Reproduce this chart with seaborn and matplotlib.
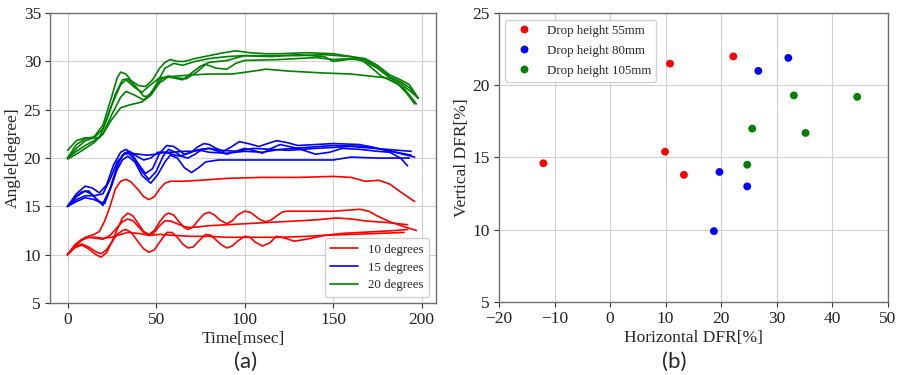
import pandas as pd
import numpy as np
import seaborn as sns
import matplotlib.pyplot as plt

# ---- (a) angle traces ----
# 10 degree runs
t_r1 = [0, 5, 10, 15, 18, 21, 24, 27, 30, 33, 36, 40, 43, 46, 49, 52, 55, 58, 65, 75, 90, 110, 130, 150, 160, 168, 176, 182, 188, 196]
a_r1 = [10.0, 11.0, 11.8, 12.1, 12.4, 13.5, 15.0, 16.8, 17.6, 17.8, 17.5, 16.7, 16.0, 15.7, 16.0, 16.8, 17.4, 17.6, 17.6, 17.7, 17.9, 18.0, 18.0, 18.1, 18.0, 17.6, 17.7, 17.3, 16.5, 15.5]
t_r2 = [0, 4, 8, 12, 16, 19, 22, 25, 28, 31, 34, 37, 40, 43, 46, 49, 52, 55, 57, 60, 63, 66, 68, 71, 74, 77, 80, 83, 86, 90, 93, 96, 100, 103, 106, 109, 112, 115, 118, 121, 124, 135, 150, 158, 165, 170, 175, 182, 190, 197]
a_r2 = [10.0, 10.7, 11.0, 10.6, 10.0, 9.75, 10.2, 11.3, 12.6, 13.8, 14.3, 14.0, 13.2, 12.4, 12.1, 12.5, 13.4, 14.1, 14.3, 14.1, 13.4, 12.8, 12.6, 12.9, 13.6, 14.2, 14.4, 14.1, 13.6, 13.2, 13.5, 14.1, 14.5, 14.4, 14.0, 13.6, 13.4, 13.6, 14.0, 14.4, 14.5, 14.5, 14.5, 14.6, 14.7, 14.5, 14.0, 13.4, 12.9, 12.5]
t_r3 = [0, 4, 8, 12, 16, 20, 24, 28, 31, 34, 37, 40, 43, 46, 49, 52, 55, 58, 62, 66, 70, 80, 90, 100, 110, 120, 130, 140, 152, 160, 168, 175, 182, 192]
a_r3 = [10.0, 11.0, 11.6, 11.8, 11.7, 11.6, 12.0, 12.8, 13.4, 13.7, 13.5, 12.9, 12.3, 12.0, 12.3, 13.0, 13.5, 13.5, 13.2, 12.9, 12.8, 13.0, 13.1, 13.2, 13.3, 13.4, 13.5, 13.6, 13.8, 13.7, 13.5, 13.4, 13.3, 13.1]
t_r4 = [0, 4, 8, 12, 16, 19, 22, 25, 28, 31, 33, 36, 40, 43, 46, 49, 52, 56, 59, 62, 65, 68, 71, 74, 78, 81, 84, 87, 90, 93, 96, 100, 103, 106, 110, 114, 118, 123, 128, 135, 145, 160, 175, 190]
a_r4 = [10.0, 10.8, 11.1, 10.8, 10.3, 10.1, 10.5, 11.3, 12.1, 12.5, 12.6, 12.3, 11.3, 10.6, 10.25, 10.5, 11.3, 12.3, 12.3, 11.8, 11.1, 10.7, 10.8, 11.4, 12.1, 12.0, 11.5, 11.0, 10.7, 10.9, 11.4, 11.9, 11.8, 11.3, 10.9, 11.2, 11.9, 11.7, 11.4, 11.6, 12.0, 12.1, 12.2, 12.3]
t_r5 = [0, 4, 8, 12, 16, 20, 25, 30, 34, 40, 46, 52, 60, 70, 80, 90, 100, 110, 120, 135, 145, 155, 165, 175, 185, 192]
a_r5 = [10.0, 10.9, 11.5, 11.8, 11.8, 11.7, 11.8, 12.1, 12.3, 12.2, 12.0, 12.1, 12.0, 11.9, 11.9, 11.8, 11.8, 11.8, 11.8, 11.9, 12.0, 12.2, 12.3, 12.4, 12.5, 12.6]

# 15 degree runs
t_b1 = [0, 5, 10, 15, 20, 24, 28, 31, 34, 38, 42, 47, 51, 55, 58, 62, 66, 70, 74, 78, 85, 100, 120, 150, 160, 175, 193]
a_b1 = [15.0, 15.5, 15.9, 15.7, 15.3, 16.8, 18.8, 19.8, 20.2, 19.6, 18.2, 17.4, 18.3, 19.6, 20.3, 20.0, 19.0, 18.5, 19.0, 19.6, 19.8, 19.8, 19.8, 19.8, 20.1, 20.0, 20.0]
t_b2 = [0, 5, 10, 15, 20, 24, 28, 32, 36, 40, 45, 50, 55, 60, 65, 70, 75, 80, 87, 95, 105, 115, 125, 140, 160, 180, 194]
a_b2 = [15.0, 15.7, 16.1, 16.1, 16.3, 17.8, 19.6, 20.4, 20.5, 20.4, 20.3, 20.4, 20.6, 20.6, 20.7, 20.7, 20.9, 21.0, 20.8, 20.7, 21.0, 20.9, 20.8, 21.0, 21.2, 20.9, 20.7]
t_b3 = [0, 5, 10, 14, 18, 22, 26, 30, 33, 36, 40, 44, 48, 52, 56, 60, 63, 66, 70, 73, 77, 80, 84, 88, 92, 97, 102, 108, 113, 118, 124, 130, 140, 150, 165, 180, 194]
a_b3 = [15.0, 16.3, 17.1, 16.9, 16.4, 17.2, 19.3, 20.6, 20.9, 20.5, 19.4, 18.4, 18.9, 20.5, 21.3, 21.2, 20.8, 20.4, 20.6, 21.1, 21.5, 21.4, 21.0, 20.7, 21.1, 21.7, 21.5, 21.2, 21.5, 21.8, 21.6, 21.3, 21.4, 21.5, 21.4, 20.8, 20.3]
t_b4 = [0, 4, 8, 12, 16, 20, 24, 28, 31, 34, 38, 42, 46, 50, 54, 57, 61, 64, 68, 72, 76, 80, 85, 90, 95, 100, 105, 110, 115, 120, 130, 140, 148, 155, 165, 175, 182, 188, 192]
a_b4 = [15.0, 15.9, 16.5, 16.6, 15.8, 15.1, 16.8, 19.2, 20.3, 20.6, 19.8, 18.6, 17.8, 18.6, 20.2, 20.9, 20.6, 20.2, 20.0, 20.4, 20.9, 21.0, 20.7, 20.4, 20.7, 21.0, 20.8, 20.5, 21.0, 21.4, 21.0, 20.4, 20.6, 21.0, 20.9, 20.7, 20.6, 20.0, 19.2]
t_b5 = [0, 5, 10, 14, 18, 21, 25, 29, 32, 35, 39, 43, 47, 51, 55, 59, 63, 67, 71, 75, 80, 90, 100, 110, 120, 135, 150, 170, 185, 196]
a_b5 = [15.0, 16.0, 16.6, 16.2, 15.5, 15.3, 17.2, 19.6, 20.5, 20.7, 20.2, 19.8, 20.0, 20.6, 20.6, 20.4, 20.2, 20.4, 20.7, 20.8, 20.6, 20.5, 20.7, 20.6, 20.9, 21.1, 21.3, 21.2, 20.6, 20.1]

# 20 degree runs
t_g1 = [0, 5, 10, 15, 20, 25, 28, 30, 33, 36, 40, 44, 48, 52, 55, 58, 62, 66, 72, 80, 88, 95, 103, 112, 120, 135, 150, 160, 168, 175, 182, 188, 193, 198]
a_g1 = [20.0, 21.4, 22.0, 22.2, 23.4, 26.4, 28.3, 28.9, 28.7, 28.0, 27.5, 27.4, 28.1, 29.3, 29.9, 30.2, 30.0, 30.0, 30.3, 30.6, 30.9, 31.1, 30.9, 30.8, 30.8, 30.9, 30.8, 30.5, 30.2, 29.4, 28.4, 27.9, 27.3, 26.2]
t_g2 = [0, 5, 10, 18, 22, 27, 31, 34, 38, 43, 46, 50, 55, 60, 65, 72, 80, 90, 100, 115, 130, 145, 150, 158, 165, 170, 177, 185, 190, 197]
a_g2 = [20.8, 21.8, 22.1, 22.1, 23.9, 26.6, 28.1, 28.2, 27.5, 26.4, 26.4, 27.6, 29.3, 29.8, 29.6, 30.0, 30.3, 30.5, 30.6, 30.5, 30.7, 30.5, 30.0, 30.2, 30.3, 29.6, 28.5, 27.8, 27.2, 25.6]
t_g3 = [0, 5, 10, 15, 20, 25, 30, 33, 38, 43, 48, 53, 57, 62, 67, 73, 78, 84, 90, 95, 100, 120, 140, 150, 160, 168, 175, 182, 188, 193, 198]
a_g3 = [20.0, 20.7, 21.3, 21.8, 22.5, 24.5, 26.3, 26.9, 26.5, 26.0, 26.9, 28.2, 28.5, 28.3, 28.2, 28.9, 29.7, 29.3, 29.2, 29.8, 30.1, 30.2, 30.4, 30.2, 30.3, 30.0, 29.3, 28.3, 27.7, 27.0, 26.2]
t_g4 = [0, 5, 10, 15, 20, 25, 30, 35, 42, 47, 52, 57, 62, 70, 80, 93, 105, 112, 125, 145, 160, 170, 180, 187, 192, 196]
a_g4 = [19.9, 20.4, 21.0, 21.6, 22.5, 24.0, 25.2, 25.5, 25.8, 26.5, 27.8, 28.4, 28.5, 28.6, 28.7, 28.7, 29.0, 29.2, 29.0, 28.8, 28.7, 28.5, 28.3, 27.6, 26.6, 25.6]
t_g5 = [0, 5, 10, 15, 20, 25, 30, 33, 38, 42, 47, 52, 57, 65, 75, 80, 90, 100, 115, 130, 145, 160, 168, 175, 182, 188, 193, 198]
a_g5 = [20.0, 21.0, 21.8, 22.1, 23.0, 25.5, 27.6, 28.1, 27.3, 26.8, 27.6, 28.3, 28.4, 28.1, 29.5, 29.9, 30.1, 30.6, 30.6, 30.6, 30.7, 30.5, 30.3, 29.6, 28.6, 28.1, 27.6, 26.2]

angle_labels = ["10 degrees", "15 degrees", "20 degrees"]

# ---- (b) DFR scatter ----
drop_labels = ["Drop height 55mm", "Drop height 80mm", "Drop height 105mm"]
h_55 = [-12.0, 9.9, 10.8, 13.3, 22.2]
v_55 = [14.6, 15.4, 21.5, 13.8, 22.0]
h_80 = [18.7, 19.7, 24.7, 26.7, 32.1]
v_80 = [9.9, 14.0, 13.0, 21.0, 21.9]
h_105 = [24.7, 25.6, 33.1, 35.2, 44.5]
v_105 = [14.5, 17.0, 19.3, 16.7, 19.2]

colors = ["red", "blue", "green"]


def build_traces():
    groups = [
        (angle_labels[0], [(t_r1, a_r1), (t_r2, a_r2), (t_r3, a_r3), (t_r4, a_r4), (t_r5, a_r5)]),
        (angle_labels[1], [(t_b1, a_b1), (t_b2, a_b2), (t_b3, a_b3), (t_b4, a_b4), (t_b5, a_b5)]),
        (angle_labels[2], [(t_g1, a_g1), (t_g2, a_g2), (t_g3, a_g3), (t_g4, a_g4), (t_g5, a_g5)]),
    ]
    frames = []
    for label, runs in groups:
        for i, (t, a) in enumerate(runs):
            frames.append(pd.DataFrame({"time": t, "angle": a, "group": label,
                                        "run": f"{label}-{i}"}))
    return pd.concat(frames, ignore_index=True)


def build_scatter():
    frames = []
    for label, h, v in zip(drop_labels, [h_55, h_80, h_105], [v_55, v_80, v_105]):
        frames.append(pd.DataFrame({"h": h, "v": v, "drop": label}))
    return pd.concat(frames, ignore_index=True)


sns.set_style("whitegrid", {"grid.color": "#d0d0d0", "axes.edgecolor": "#707070",
                            "xtick.bottom": True, "ytick.left": True,
                            "xtick.color": "#333333", "ytick.color": "#333333"})
plt.rcParams["font.family"] = ["Liberation Serif", "DejaVu Serif"]
plt.rcParams["xtick.labelcolor"] = "#222222"
plt.rcParams["ytick.labelcolor"] = "#222222"

traces = build_traces()
scatter = build_scatter()

fig = plt.figure(figsize=(9.04, 3.75), dpi=100)
ax1 = fig.add_axes([0.0553, 0.192, 0.4267, 0.773])
ax2 = fig.add_axes([0.552, 0.195, 0.430, 0.770])

sns.lineplot(data=traces, x="time", y="angle", hue="group", units="run",
             estimator=None, sort=False, palette=colors, linewidth=1.2, ax=ax1)
ax1.set_ylim(5, 35)
ax1.set_yticks(np.arange(5, 36, 5))
ax1.set_xticks(np.arange(0, 201, 50))
ax1.set_xlabel("Time[msec]", fontsize=12.5, labelpad=2)
ax1.set_ylabel("Angle[degree]", fontsize=12.5, labelpad=2)
handles, labels = ax1.get_legend_handles_labels()
ax1.legend(handles, labels, loc="lower right", fontsize=9.3, frameon=True,
           edgecolor="#cccccc", framealpha=0.9, handlelength=2.2,
           labelspacing=0.45)

sns.scatterplot(data=scatter, x="h", y="v", hue="drop", palette=colors,
                s=32, edgecolor="none", ax=ax2)
ax2.set_xlim(-20, 50)
ax2.set_ylim(5, 25)
ax2.set_xticks(np.arange(-20, 51, 10))
ax2.set_yticks(np.arange(5, 26, 5))
ax2.set_xlabel("Horizontal DFR[%]", fontsize=12.5, labelpad=2)
ax2.set_ylabel("Vertical DFR[%]", fontsize=12.5, labelpad=2)
handles, labels = ax2.get_legend_handles_labels()
ax2.legend(handles, labels, loc="upper left", fontsize=9.3, frameon=True,
           edgecolor="#cccccc", framealpha=0.9, labelspacing=0.62)

for ax in (ax1, ax2):
    ax.tick_params(labelsize=12.5, length=3.5, width=0.8, pad=3)
    for sp in ax.spines.values():
        sp.set_linewidth(1.0)

fig.text(0.272, 0.018, "(a)", fontsize=16, family=["Lato", "DejaVu Sans"], ha="center")
fig.text(0.746, 0.018, "(b)", fontsize=16, family=["Lato", "DejaVu Sans"], ha="center")

fig.savefig("out.png", dpi=100)
